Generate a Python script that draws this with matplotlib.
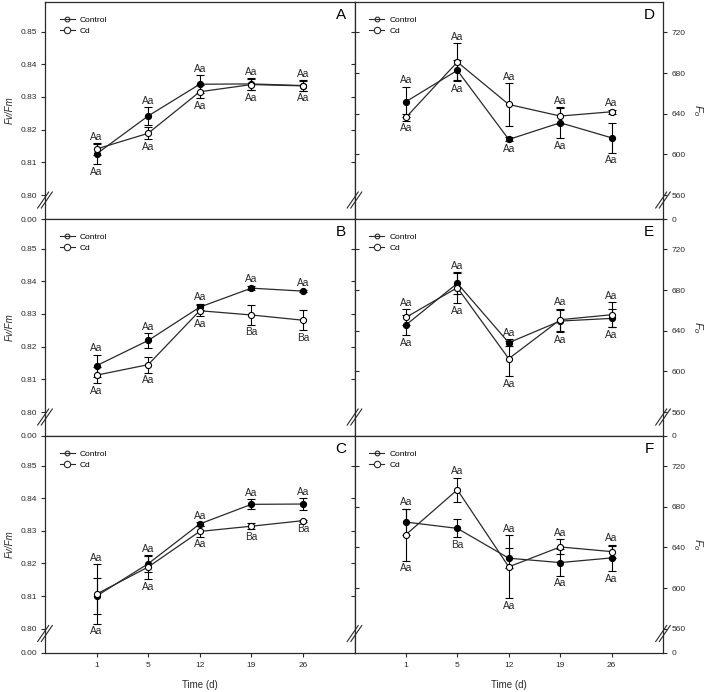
import numpy as np
import matplotlib
matplotlib.use('Agg')
import matplotlib.pyplot as plt
from matplotlib.lines import Line2D

plt.rcParams['font.family'] = ['Liberation Sans', 'DejaVu Sans']
plt.rcParams['mathtext.fontset'] = 'custom'
plt.rcParams['mathtext.rm'] = 'Liberation Sans'
plt.rcParams['mathtext.it'] = 'Liberation Sans:italic'

# ---------------- data ----------------
times = ['1', '5', '12', '19', '26']

A_ctrl = [0.8126, 0.8242, 0.8339, 0.8340, 0.8335]
A_ctrl_err = [0.0031, 0.0027, 0.0028, 0.0018, 0.0016]
A_cd = [0.8141, 0.8189, 0.8316, 0.8338, 0.8334]
A_cd_err = [0.0018, 0.0018, 0.0020, 0.0017, 0.0015]
A_ctrl_lab = ['Aa', 'Aa', 'Aa', 'Aa', 'Aa']
A_cd_lab = ['Aa', 'Aa', 'Aa', 'Aa', 'Aa']

B_ctrl = [0.8142, 0.8219, 0.8321, 0.8379, 0.8370]
B_ctrl_err = [0.0034, 0.0023, 0.0010, 0.0007, 0.0004]
B_cd = [0.8113, 0.8145, 0.8310, 0.8297, 0.8281]
B_cd_err = [0.0025, 0.0024, 0.0017, 0.0030, 0.0030]
B_ctrl_lab = ['Aa', 'Aa', 'Aa', 'Aa', 'Aa']
B_cd_lab = ['Aa', 'Aa', 'Aa', 'Ba', 'Ba']

C_ctrl = [0.8100, 0.8199, 0.8321, 0.8381, 0.8382]
C_ctrl_err = [0.0055, 0.0025, 0.0005, 0.0015, 0.0018]
C_cd = [0.8106, 0.8189, 0.8298, 0.8314, 0.8331]
C_cd_err = [0.0091, 0.0037, 0.0017, 0.0010, 0.0003]
C_ctrl_lab = ['Aa', 'Aa', 'Aa', 'Aa', 'Aa']
C_cd_lab = ['Aa', 'Aa', 'Aa', 'Ba', 'Ba']

D_ctrl = [651.8, 682.6, 614.7, 631.1, 616.3]
D_ctrl_err = [14.7, 9.8, 2.0, 15.1, 14.8]
D_cd = [636.3, 690.8, 649.1, 637.7, 641.9]
D_cd_err = [3.0, 18.7, 20.8, 7.5, 2.0]
D_ctrl_lab = ['Aa', 'Aa', 'Aa', 'Aa', 'Aa']
D_cd_lab = ['Aa', 'Aa', 'Aa', 'Aa', 'Aa']

E_ctrl = [645.6, 686.6, 628.2, 649.5, 652.1]
E_ctrl_err = [9.9, 10.5, 3.5, 10.8, 8.8]
E_cd = [653.1, 682.3, 612.5, 650.8, 655.7]
E_cd_err = [7.9, 15.4, 17.1, 11.0, 12.5]
E_ctrl_lab = ['Aa', 'Aa', 'Aa', 'Aa', 'Aa']
E_cd_lab = ['Aa', 'Aa', 'Aa', 'Aa', 'Aa']

F_ctrl = [665.0, 658.8, 629.4, 625.1, 629.7]
F_ctrl_err = [13.1, 8.8, 10.1, 13.1, 13.1]
F_cd = [652.6, 696.8, 620.9, 640.5, 635.9]
F_cd_err = [25.5, 12.1, 31.1, 7.4, 5.9]
F_ctrl_lab = ['Aa', 'Ba', 'Aa', 'Aa', 'Aa']
F_cd_lab = ['Aa', 'Aa', 'Aa', 'Aa', 'Aa']

left_ticks = [0.0, 0.80, 0.81, 0.82, 0.83, 0.84, 0.85]
left_ticklabels = ['0.00', '0.80', '0.81', '0.82', '0.83', '0.84', '0.85']
right_ticks = [0, 560, 600, 640, 680, 720]
right_ticklabels = ['0', '560', '600', '640', '680', '720']

# ---------------- layout ----------------
W, H = 706, 692
fig = plt.figure(figsize=(W / 100, H / 100), dpi=100)
DARK = '#2a2a2a'

col_x = [(45, 354.5), (354.5, 663)]
row_y = [(2, 219), (219, 436), (436, 652.5)]


def make_scale(b, g):
    lo = b - g

    def fwd(y):
        y = np.asarray(y, float)
        return np.where(y >= b, y, lo + y * g / b)

    def inv(v):
        v = np.asarray(v, float)
        return np.where(v >= b, v, (v - lo) * b / g)
    return fwd, inv


scale_left = dict(b=0.80, g=0.00731, top=0.85905)
scale_right = dict(b=560.0, g=23.5, top=749.8)

panels = [
    (0, 0, 'A', A_ctrl, A_ctrl_err, A_cd, A_cd_err, A_ctrl_lab, A_cd_lab),
    (1, 0, 'B', B_ctrl, B_ctrl_err, B_cd, B_cd_err, B_ctrl_lab, B_cd_lab),
    (2, 0, 'C', C_ctrl, C_ctrl_err, C_cd, C_cd_err, C_ctrl_lab, C_cd_lab),
    (0, 1, 'D', D_ctrl, D_ctrl_err, D_cd, D_cd_err, D_ctrl_lab, D_cd_lab),
    (1, 1, 'E', E_ctrl, E_ctrl_err, E_cd, E_cd_err, E_ctrl_lab, E_cd_lab),
    (2, 1, 'F', F_ctrl, F_ctrl_err, F_cd, F_cd_err, F_ctrl_lab, F_cd_lab),
]

x = np.arange(1, len(times) + 1)

for row, col, letter, ctrl, ctrl_e, cd, cd_e, ctrl_lab, cd_lab in panels:
    x0, x1 = col_x[col]
    y0, y1 = row_y[row]
    ax = fig.add_axes([x0 / W, 1 - y1 / H, (x1 - x0) / W, (y1 - y0) / H])
    sc = scale_left if col == 0 else scale_right
    fwd, inv = make_scale(sc['b'], sc['g'])
    ax.set_yscale('function', functions=(fwd, inv))
    ax.set_ylim(0, sc['top'])
    ax.set_xlim(0, 6)
    ax.set_xticks(x)
    for s in ax.spines.values():
        s.set_color(DARK)
        s.set_linewidth(0.9)

    # twin axis for inner ticks on the shared spine
    tw = ax.twinx()
    tw.set_yscale('function', functions=(fwd, inv))
    tw.set_ylim(0, sc['top'])
    for s in tw.spines.values():
        s.set_visible(False)
    tw.tick_params(axis='x', bottom=False, top=False, labelbottom=False, labeltop=False)

    if col == 0:
        ax.set_yticks(left_ticks)
        ax.set_yticklabels(left_ticklabels)
        ax.tick_params(axis='y', direction='out', length=3, width=0.8,
                       pad=2.5, labelsize=6, colors=DARK)
        tw.set_yticks(left_ticks[2:])
        tw.tick_params(axis='y', direction='in', length=3, width=0.8,
                       labelright=False, colors=DARK)
        ax.set_ylabel('Fv/Fm', fontsize=7, style='italic', color=DARK)
        ax.yaxis.set_label_coords(-0.097, 0.5)
    else:
        ax.yaxis.tick_right()
        ax.set_yticks(right_ticks)
        ax.set_yticklabels(right_ticklabels)
        ax.tick_params(axis='y', direction='out', length=3, width=0.8,
                       pad=3, labelsize=6, colors=DARK)
        tw.yaxis.tick_left()
        tw.set_yticks(right_ticks[2:])
        tw.tick_params(axis='y', direction='in', length=3, width=0.8,
                       labelleft=False, labelright=False, colors=DARK)
        ax.yaxis.set_label_position('right')
        ax.set_ylabel(r'$F_o$', fontsize=8, rotation=270, color=DARK)
        ax.yaxis.set_label_coords(1.136, 0.5)

    if row == 2:
        ax.set_xticklabels(times)
        ax.tick_params(axis='x', direction='out', length=3, width=0.8,
                       pad=4, labelsize=6, colors=DARK)
        ax.set_xlabel('Time (d)', fontsize=7, color=DARK, labelpad=7.5)
    else:
        ax.tick_params(axis='x', bottom=False, labelbottom=False)

    ekw = dict(fmt='-o', color=DARK, lw=0.9, ms=4.4, mew=0.8, mec='black',
               ecolor='black', elinewidth=0.8, capsize=2.6, capthick=0.8)
    ax.errorbar(x, ctrl, yerr=ctrl_e, mfc='black', zorder=3, **ekw)
    ax.errorbar(x, cd, yerr=cd_e, mfc='white', zorder=4, **ekw)

    # significance letters
    c = np.array(ctrl); ce = np.array(ctrl_e)
    d = np.array(cd); de = np.array(cd_e)
    hi = np.maximum(c + ce, d + de)
    lo = np.minimum(c - ce, d - de)
    for i in range(len(x)):
        if c[i] >= d[i]:
            up, dn = ctrl_lab[i], cd_lab[i]
        else:
            up, dn = cd_lab[i], ctrl_lab[i]
        ax.annotate(up, (x[i], hi[i]), xytext=(0, 4.6), textcoords='offset points',
                    ha='center', va='center', fontsize=7.3, color=DARK)
        ax.annotate(dn, (x[i], lo[i]), xytext=(0, -5.4), textcoords='offset points',
                    ha='center', va='center', fontsize=7.3, color=DARK)

    ax.text(0.955, 0.94, letter, transform=ax.transAxes, fontsize=11,
            ha='center', va='center', color='black')

    h1 = Line2D([], [], color=DARK, lw=0.8, marker='o', ms=3.4, mfc='none',
                mec=DARK, mew=0.8)
    h2 = Line2D([], [], color=DARK, lw=0.8, marker='o', ms=4.6, mfc='white',
                mec=DARK, mew=0.8)
    ax.legend([h1, h2], ['Control', 'Cd'], loc='upper left',
              bbox_to_anchor=(0.048, 0.935), frameon=False, fontsize=6,
              handlelength=1.8, handletextpad=0.6, labelspacing=0.35,
              borderpad=0, borderaxespad=0)

# axis break marks on the vertical spines
for (ytop, ybot) in row_y:
    yc = ybot - 19
    for xs in (45, 354.5, 663):
        for off in (-1.8, 1.8):
            xa, xb = xs + off - 5.5, xs + off + 5.5
            ya, yb = yc + 8, yc - 8
            fig.add_artist(Line2D([xa / W, xb / W], [1 - ya / H, 1 - yb / H],
                                  transform=fig.transFigure, color=DARK, lw=0.8))

fig.savefig('out.png', dpi=100)
